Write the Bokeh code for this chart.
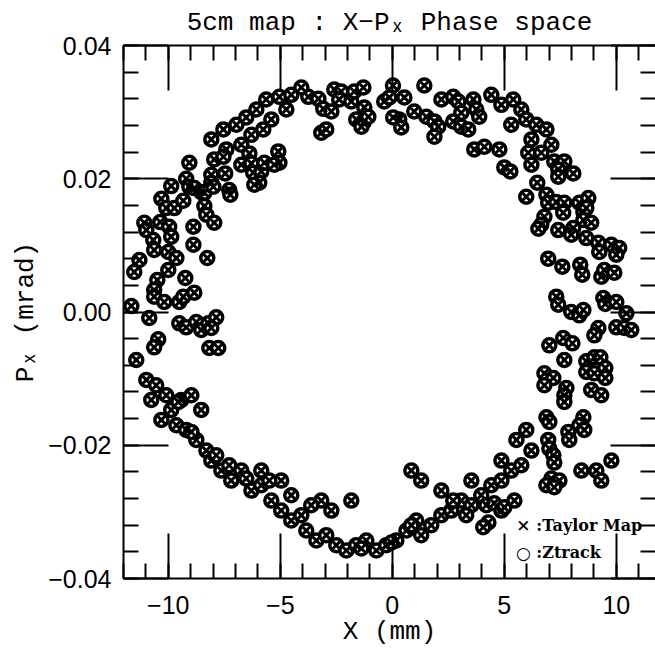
from bokeh.plotting import figure
from bokeh.models import FixedTicker, LinearAxis, Label, Range1d, CustomJSTickFormatter
from bokeh.embed import file_html
from bokeh.resources import INLINE

# (X [mm], Px [rad]), grouped by part of the ring
top_centre = [
    (0.03, 0.0340), (1.43, 0.0340), (-3.75, 0.0323), (-3.30, 0.0320), (-3.08, 0.0305),
    (-2.72, 0.0301), (-2.59, 0.0334), (-2.28, 0.0331), (-2.37, 0.0319), (-1.83, 0.0316),
    (-1.70, 0.0331), (-1.29, 0.0337), (-1.25, 0.0307), (-1.61, 0.0289), (-1.29, 0.0284),
    (-1.07, 0.0293), (-1.38, 0.0278), (-0.36, 0.0316), (-0.13, 0.0322), (0.54, 0.0322),
    (0.31, 0.0289), (0.04, 0.0292), (0.40, 0.0277), (0.98, 0.0301), (1.52, 0.0293),
    (1.88, 0.0286), (2.05, 0.0278), (1.88, 0.0263), (2.19, 0.0319), (2.72, 0.0323),
    (2.95, 0.0316), (3.08, 0.0299), (2.72, 0.0286), (3.08, 0.0278), (3.39, 0.0274),
    (3.62, 0.0319), (3.75, 0.0304), (3.88, 0.0293), (-3.17, 0.0269), (-2.95, 0.0274),
    (3.66, 0.0244), (4.11, 0.0248), (4.78, 0.0244),
]
top_left = [
    (-8.08, 0.0259), (-7.54, 0.0274), (-6.96, 0.0281), (-6.52, 0.0292), (-6.07, 0.0304),
    (-5.63, 0.0319), (-5.04, 0.0323), (-4.51, 0.0326), (-4.06, 0.0337), (-4.73, 0.0304),
    (-5.40, 0.0289), (-6.29, 0.0266), (-6.74, 0.0251), (-7.41, 0.0244), (-5.76, 0.0274),
]
upper_left = [
    (-9.06, 0.0224), (-7.95, 0.0229), (-7.54, 0.0233), (-6.38, 0.0238), (-6.74, 0.0221),
    (-6.29, 0.0223), (-6.21, 0.0209), (-5.85, 0.0211), (-5.71, 0.0224), (-5.09, 0.0241),
    (-5.04, 0.0224), (-5.27, 0.0221), (-5.94, 0.0194), (-6.16, 0.0191), (-7.46, 0.0208),
    (-8.08, 0.0206), (-8.08, 0.0194), (-9.20, 0.0200), (-9.06, 0.0188), (-8.84, 0.0186),
    (-8.53, 0.0180), (-8.39, 0.0179), (-7.99, 0.0188), (-7.28, 0.0183), (-7.23, 0.0176),
    (-9.87, 0.0189), (-10.31, 0.0170), (-10.09, 0.0156), (-9.73, 0.0156), (-9.33, 0.0167),
    (-8.39, 0.0159), (-8.30, 0.0146), (-7.95, 0.0134), (-8.88, 0.0128), (-10.36, 0.0135),
    (-9.96, 0.0128), (-9.87, 0.0113), (-11.07, 0.0134), (-10.98, 0.0123), (-10.67, 0.0108),
    (-10.63, 0.0093), (-8.88, 0.0101), (-10.00, 0.0090), (-9.64, 0.0081), (-11.29, 0.0078),
    (-11.52, 0.0060), (-10.00, 0.0063), (-8.26, 0.0081), (-9.24, 0.0051), (-10.49, 0.0048),
    (-10.63, 0.0033), (-10.63, 0.0023), (-10.18, 0.0015), (-9.51, 0.0015), (-9.33, 0.0023),
    (-8.84, 0.0029), (-11.65, 0.0009), (-10.85, -0.0009), (-9.51, -0.0017), (-9.20, -0.0023),
    (-8.75, -0.0015), (-8.53, -0.0027), (-8.21, -0.0017), (-7.86, -0.0008), (-8.08, -0.0024),
    (-10.45, -0.0041), (-10.63, -0.0053), (-8.17, -0.0054), (-7.77, -0.0054),
]
lower_left = [
    (-11.43, -0.0072), (-10.98, -0.0102), (-10.54, -0.0110), (-10.09, -0.0125),
    (-9.87, -0.0147), (-9.42, -0.0132), (-8.97, -0.0125), (-8.53, -0.0147),
    (-9.64, -0.0170), (-9.20, -0.0177), (-8.75, -0.0192), (-8.30, -0.0208),
    (-10.31, -0.0162), (-10.76, -0.0132), (-9.55, -0.0135), (-8.97, -0.0180),
]
bottom = [
    (-8.08, -0.0223), (-7.63, -0.0238), (-7.19, -0.0253), (-6.74, -0.0238), (-6.29, -0.0268),
    (-5.85, -0.0260), (-5.40, -0.0283), (-4.96, -0.0298), (-4.51, -0.0313), (-4.06, -0.0305),
    (-3.84, -0.0328), (-3.39, -0.0343), (-2.95, -0.0335), (-2.50, -0.0350), (-2.05, -0.0358),
    (-1.61, -0.0350), (-1.16, -0.0343), (-0.71, -0.0358), (-0.27, -0.0350), (0.18, -0.0343),
    (0.63, -0.0328), (1.07, -0.0313), (1.29, -0.0335), (1.74, -0.0320), (2.19, -0.0305),
    (2.63, -0.0298), (3.08, -0.0283), (3.53, -0.0290), (3.97, -0.0275), (4.42, -0.0260),
    (4.87, -0.0253), (5.31, -0.0238), (5.76, -0.0230), (6.21, -0.0208), (5.98, -0.0177),
    (5.54, -0.0192), (4.87, -0.0223), (3.53, -0.0253), (2.19, -0.0268), (1.29, -0.0253),
    (0.85, -0.0238), (-3.17, -0.0283), (-2.72, -0.0298), (-1.83, -0.0283), (-4.96, -0.0253),
    (-5.85, -0.0238), (-7.86, -0.0215), (-7.28, -0.0230), (-6.52, -0.0250), (-5.49, -0.0253),
    (-4.51, -0.0275), (-3.62, -0.0290), (-1.38, -0.0355), (-0.04, -0.0346), (0.85, -0.0320),
    (2.72, -0.0283), (3.30, -0.0305), (4.20, -0.0290),
]
top_right = [
    (4.42, 0.0326), (4.87, 0.0311), (5.40, 0.0319), (5.76, 0.0304), (5.98, 0.0289),
    (6.43, 0.0281), (6.88, 0.0274), (5.31, 0.0281), (6.21, 0.0259), (7.10, 0.0251),
]
upper_right = [
    (6.07, 0.0239), (6.65, 0.0239), (5.00, 0.0217), (5.27, 0.0211), (6.21, 0.0221),
    (7.23, 0.0226), (7.68, 0.0226), (7.41, 0.0214), (7.41, 0.0203), (8.08, 0.0208),
    (6.47, 0.0194), (5.98, 0.0173), (6.88, 0.0176), (6.96, 0.0164), (7.32, 0.0165),
    (7.68, 0.0164), (7.63, 0.0149), (8.35, 0.0164), (8.75, 0.0171), (8.53, 0.0150),
    (8.66, 0.0156), (8.53, 0.0138), (8.88, 0.0134), (6.79, 0.0143), (6.65, 0.0131),
    (6.52, 0.0125), (7.41, 0.0123), (8.08, 0.0126), (7.99, 0.0116), (8.66, 0.0111),
    (9.20, 0.0104), (9.24, 0.0090), (9.78, 0.0101), (10.13, 0.0096), (10.00, 0.0086),
    (6.96, 0.0080), (7.59, 0.0068), (8.39, 0.0071), (8.48, 0.0056), (9.33, 0.0053),
    (9.46, 0.0063), (9.91, 0.0059),
]
right_mid = [
    (7.32, 0.0023), (7.41, 0.0011), (7.99, 0.0000), (8.35, -0.0005), (8.53, 0.0003),
    (9.42, 0.0021), (9.51, 0.0012), (10.00, 0.0015), (10.45, -0.0002), (9.20, -0.0024),
    (9.02, -0.0035), (10.00, -0.0023), (10.36, -0.0024), (10.67, -0.0027), (7.01, -0.0050),
    (7.63, -0.0039), (8.04, -0.0047), (7.68, -0.0072), (8.66, -0.0074), (9.02, -0.0068),
    (9.29, -0.0068), (8.66, -0.0090), (9.02, -0.0092), (9.51, -0.0084), (9.51, -0.0099),
    (6.79, -0.0092), (7.19, -0.0099), (6.79, -0.0110), (7.77, -0.0114), (7.68, -0.0125),
]
lower_right = [
    (7.68, -0.0135), (6.88, -0.0158), (7.01, -0.0165), (8.53, -0.0158), (8.35, -0.0170),
    (7.86, -0.0180), (7.90, -0.0192), (8.57, -0.0177), (6.96, -0.0192), (7.01, -0.0205),
    (7.19, -0.0215), (7.23, -0.0226), (7.10, -0.0250), (7.46, -0.0253), (6.88, -0.0260),
    (7.23, -0.0263), (4.55, -0.0287), (4.87, -0.0298), (5.00, -0.0293), (5.45, -0.0283),
    (4.29, -0.0316), (4.06, -0.0323), (8.88, -0.0117), (9.33, -0.0125), (8.44, -0.0238),
    (9.11, -0.0238), (9.33, -0.0253), (9.78, -0.0223),
]

x_major = [-10, -5, 0, 5, 10]
x_minor = [-12, -11, -10, -9, -8, -7, -6, -5, -4, -3, -2, -1, 0, 1, 2, 3, 4, 5, 6, 7, 8, 9, 10, 11]
x_labels = ["\u221210", "\u22125", "0", "5", "10"]
y_major = [-0.04, -0.02, 0.0, 0.02, 0.04]
y_minor = [-0.04, -0.036, -0.032, -0.028, -0.024, -0.02, -0.016, -0.012, -0.008, -0.004, 0.0,
           0.004, 0.008, 0.012, 0.016, 0.02, 0.024, 0.028, 0.032, 0.036, 0.04]
y_labels = ["\u22120.04", "\u22120.02", "0.00", "0.02", "0.04"]

points = top_centre + top_left + upper_left + lower_left + bottom + top_right + upper_right + right_mid + lower_right
xs = [pt[0] for pt in points]
ys = [pt[1] for pt in points]

p = figure(width=655, height=654, output_backend="svg", toolbar_location=None,
           x_range=Range1d(-12, 11.75), y_range=Range1d(-0.04, 0.04),
           x_axis_location=None, y_axis_location=None,
           min_border_left=123, min_border_right=0, min_border_top=45, min_border_bottom=76)
p.grid.visible = False
p.outline_line_color = None
p.background_fill_color = "white"
p.border_fill_color = "white"

p.title.text = "5cm map : X\u2212P\u2093 Phase space"
p.title.align = "center"
p.title.vertical_align = "top"
p.title.text_font = "Liberation Mono"
p.title.text_font_size = "26px"
p.title.text_font_style = "normal"
p.title.text_color = "black"
p.title.standoff = 11

xt = FixedTicker(ticks=x_major, minor_ticks=x_minor)
yt = FixedTicker(ticks=y_major, minor_ticks=y_minor)


def style(ax):
    ax.major_tick_in = 45
    ax.major_tick_out = 0
    ax.minor_tick_in = 15
    ax.minor_tick_out = 0
    ax.axis_line_width = 2
    ax.major_tick_line_width = 2
    ax.minor_tick_line_width = 2
    ax.axis_line_color = "black"
    ax.major_tick_line_color = "black"
    ax.minor_tick_line_color = "black"
    ax.major_label_text_font = "Liberation Sans"
    ax.major_label_text_font_size = "25px"
    ax.major_label_text_color = "black"
    ax.axis_label_text_font = "Liberation Mono"
    ax.axis_label_text_font_size = "26px"
    ax.axis_label_text_font_style = "normal"
    ax.axis_label_text_color = "black"


xb = LinearAxis(ticker=xt, axis_label="X (mm)",
                major_label_overrides=dict(zip(x_major, x_labels)))
style(xb)
xb.major_label_standoff = 17
xb.axis_label_standoff = 0
p.add_layout(xb, "below")

yl = LinearAxis(ticker=yt, axis_label="P\u2093 (mrad)",
                major_label_overrides=dict(zip(y_major, y_labels)))
style(yl)
yl.major_label_standoff = 12
yl.axis_label_standoff = 4
p.add_layout(yl, "left")

blank = CustomJSTickFormatter(code="return ''")

xtop = LinearAxis(ticker=xt, formatter=blank)
style(xtop)
xtop.major_label_standoff = 0
p.add_layout(xtop, "above")

yr = LinearAxis(ticker=yt, formatter=blank)
style(yr)
yr.major_label_standoff = 0
yr.axis_line_color = None
p.add_layout(yr, "right")

p.scatter(xs, ys, marker="circle", size=13, fill_color="white", line_color="black", line_width=3.5)
p.scatter(xs, ys, marker="x", size=10, line_color="black", line_width=3)

leg_font = "DejaVu Serif"
p.add_layout(Label(x=5.85, y=-0.032, text="\u00d7", text_font=leg_font, text_font_size="17px",
                   text_font_style="bold", text_color="black", text_align="center", text_baseline="middle"))
p.add_layout(Label(x=6.43, y=-0.032, text=":Taylor Map", text_font=leg_font, text_font_size="16px",
                   text_font_style="bold", text_color="black", text_align="left", text_baseline="middle"))
p.add_layout(Label(x=5.85, y=-0.0361, text="\u25cb", text_font=leg_font, text_font_size="17px",
                   text_font_style="bold", text_color="black", text_align="center", text_baseline="middle"))
p.add_layout(Label(x=6.43, y=-0.0361, text=":Ztrack", text_font=leg_font, text_font_size="16px",
                   text_font_style="bold", text_color="black", text_align="left", text_baseline="middle"))

open("out.html", "w").write(file_html(p, INLINE))
